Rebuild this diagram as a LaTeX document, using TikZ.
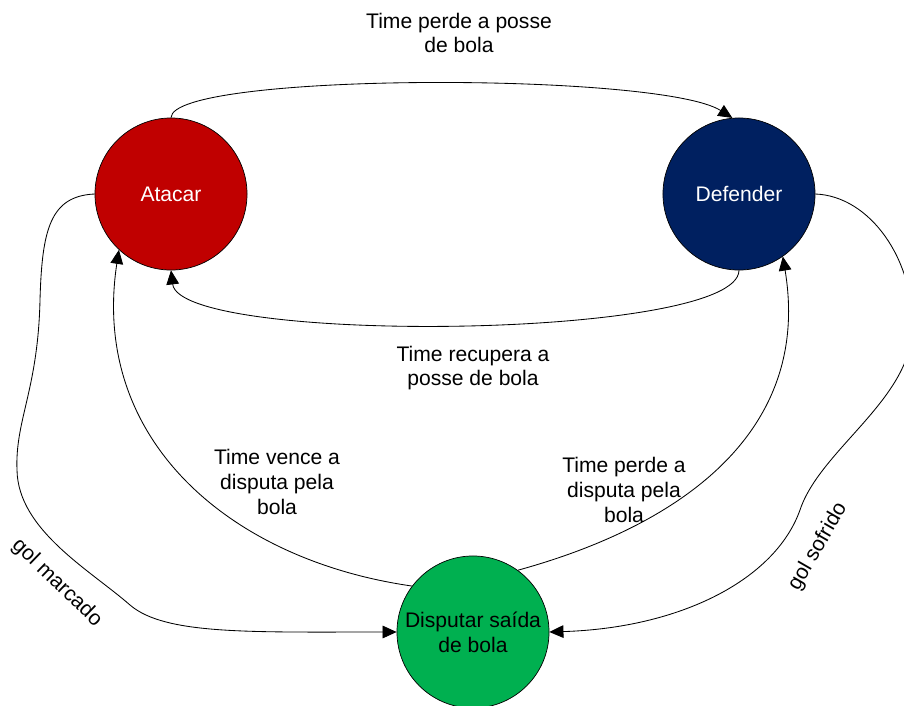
\documentclass[tikz,border=0pt]{standalone}
\usepackage{fontspec}
\setmainfont{Liberation Sans}
\usetikzlibrary{arrows.meta}
\definecolor{vermelho}{HTML}{C00000}
\definecolor{azul}{HTML}{002060}
\definecolor{verde}{HTML}{00B050}

\begin{document}
\begin{tikzpicture}[x=0.025cm, y=-0.025cm,
  estado/.style={circle, draw=black, line width=0.5pt, minimum size=3.8cm, inner sep=0pt, align=center, font=\fontsize{15}{17.7}\selectfont},
  rotulo/.style={align=center, inner sep=0pt, font=\fontsize{15}{17.7}\selectfont},
  seta/.style={line width=0.6pt, -{Triangle[length=10pt,width=9pt]}}]
\useasboundingbox (0,0) rectangle (904,706);
% estados
\node[estado, fill=vermelho, text=white] (atacar) at (171,194) {Atacar};
\node[estado, fill=azul, text=white] (defender) at (739,194) {Defender};
\node[estado, fill=verde] (disputar) at (473,632) {Disputar saída\\de bola};
% transicoes
\draw[seta] (atacar.north) .. controls (172,72) and (660,72) .. (defender.95);
\draw[seta] (defender.south) .. controls (738,340) and (180,345) .. (atacar.south);
\draw[seta] (disputar.143) .. controls (230,560) and (90,440) .. (atacar.227);
\draw[seta] (disputar.54) .. controls (700,520) and (810,420) .. (defender.-55);
\draw[seta] (atacar.west) .. controls (50,196) and (42,230) .. (40,300)
  .. controls (38,390) and (15,420) .. (17,470)
  .. controls (18,530) and (90,570) .. (130,605)
  .. controls (165,635) and (250,632) .. (disputar.west);
\draw[seta] (defender.east) .. controls (870,196) and (915,260) .. (912,330)
  .. controls (910,400) and (820,450) .. (800,510)
  .. controls (775,580) and (680,628) .. (disputar.east);
% rotulos
\node[rotulo] (lperdeposse) at (459,33) {Time perde a posse\\de bola};
\node[rotulo] (lrecupera) at (473,368) {Time recupera a\\posse de bola};
\node[rotulo] (lvence) at (277,482) {Time vence a\\disputa pela\\bola};
\node[rotulo] (lperdedisputa) at (624,490) {Time perde a\\disputa pela\\bola};
\node[rotulo, rotate=-44] (lmarcado) at (57,583) {gol marcado};
\node[rotulo, rotate=60] (lsofrido) at (818,547) {gol sofrido};
\end{tikzpicture}
\end{document}
